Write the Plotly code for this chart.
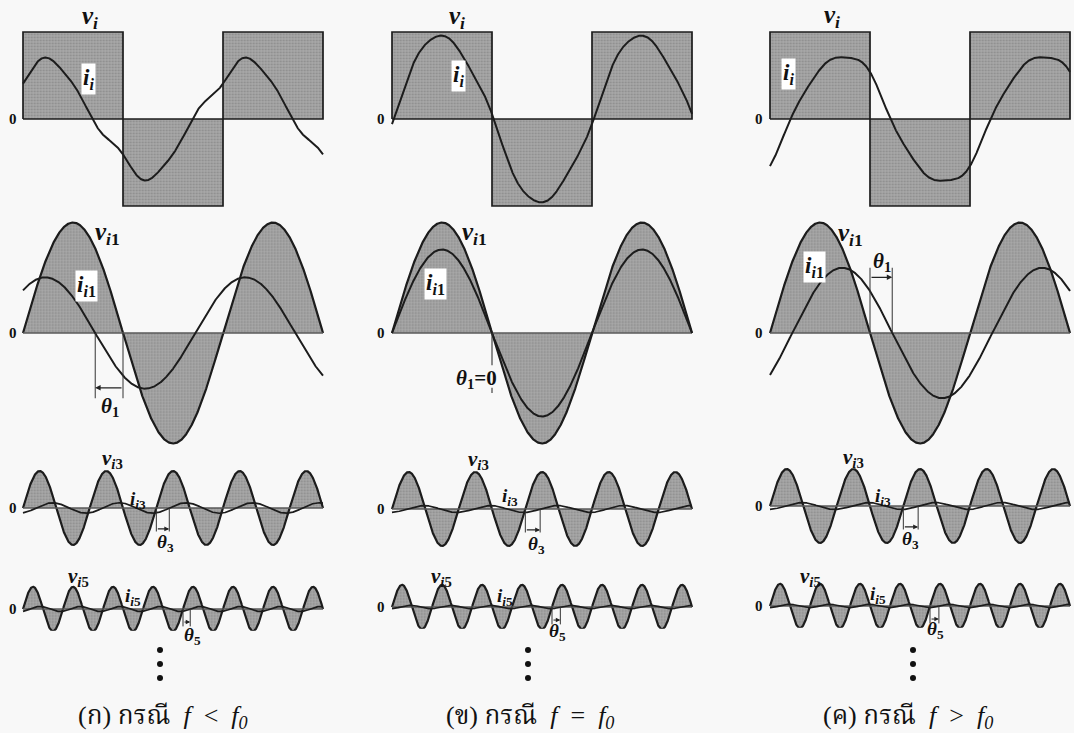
import numpy as np
import plotly.graph_objects as go

W, H = 1074, 733

# ---------------- data ----------------
case_letters = ["ก", "ข", "ค"]
case_signs = ["<", "=", ">"]

harmonic_orders = [1, 3, 5]
# square-wave input voltage (amplitude 1): level in each half period
square_levels = [1, -1, 1]
square_edges = [0, 180, 360, 540]          # degrees of the fundamental
# harmonic voltage amplitudes (fundamental, 3rd, 5th)
v_amp = [1.27, 0.425, 0.255]

# harmonic current amplitudes per case (f<f0, f=f0, f>f0)
i1_amp = [0.64, 0.96, 0.75]
i3_amp = [0.06, 0.04, 0.04]
i5_amp = [0.03, 0.02, 0.02]
# current phase relative to voltage, in harmonic degrees (+ = leading)
phi1 = [50, 0, -40]
phi3 = [-70, -80, -80]
phi5 = [-65, -75, -80]

# zero crossing of each harmonic voltage where the phase bracket is drawn
bracket_at = [180, 240, 288]

# ---------------- layout geometry ----------------
col_x0 = [23, 392, 770]                       # pixel x of angle 0
zero_px = [[119, 333, 508, 609], [119, 333, 509, 607], [119, 333, 506, 606]]
px_per_deg = 300 / 540
px_per_unit = 87
x_range = [-30, 545]
y_ranges = [(-1.25, 1.3), (-1.35, 1.35), (-0.55, 0.6), (-0.25, 0.42)]

LINE = "#1c1c1c"
FILL_BG = "#a9a9a9"
FILL_FG = "#6a6a6a"
SERIF = "Liberation Serif"

fill_pattern = dict(shape=".", bgcolor=FILL_BG, fgcolor=FILL_FG, size=3, solidity=0.35)

fig = go.Figure()
layout = {}
annotations = []
shapes = []


def P(px, py):
    return px / W, 1 - py / H


t = np.linspace(0, 540, 1621)
i_amps = [i1_amp, i3_amp, i5_amp]
phis = [phi1, phi3, phi5]

for c in range(3):
    for r in range(4):
        idx = r * 3 + c + 1
        sfx = "" if idx == 1 else str(idx)
        x0 = col_x0[c]
        z = zero_px[c][r]
        y0, y1 = y_ranges[r]
        xd = [(x0 + x_range[0] * px_per_deg) / W, (x0 + x_range[1] * px_per_deg) / W]
        yd = [1 - (z - y0 * px_per_unit) / H, 1 - (z - y1 * px_per_unit) / H]
        layout["xaxis" + sfx] = dict(domain=xd, range=x_range, visible=False,
                                     fixedrange=True, anchor="y" + sfx)
        layout["yaxis" + sfx] = dict(domain=yd, range=[y0, y1], visible=False,
                                     fixedrange=True, anchor="x" + sfx)
        xa, ya = "x" + sfx, "y" + sfx

        if r == 0:
            # square-wave voltage block outline
            sx, sy = [square_edges[0]], [0]
            for k, lev in enumerate(square_levels):
                sx += [square_edges[k], square_edges[k + 1]]
                sy += [lev, lev]
            sx += [square_edges[-1], square_edges[0]]
            sy += [0, 0]
            fig.add_trace(go.Scatter(x=sx, y=sy, mode="lines", fill="toself",
                                     fillpattern=fill_pattern, fillcolor=FILL_BG,
                                     line=dict(color=LINE, width=1.7),
                                     xaxis=xa, yaxis=ya, hoverinfo="skip"))
            # total current: sum of harmonic currents
            cur = np.zeros_like(t)
            for h, n in enumerate(harmonic_orders):
                cur += i_amps[h][c] * np.sin(np.radians(n * t + phis[h][c]))
            fig.add_trace(go.Scatter(x=t, y=cur, mode="lines",
                                     line=dict(color=LINE, width=2),
                                     xaxis=xa, yaxis=ya, hoverinfo="skip"))
        else:
            h = r - 1
            n = harmonic_orders[h]
            v = v_amp[h] * np.sin(np.radians(n * t))
            fig.add_trace(go.Scatter(x=t, y=v, mode="lines", fill="tozeroy",
                                     fillpattern=fill_pattern, fillcolor=FILL_BG,
                                     line=dict(color=LINE, width=2.2),
                                     xaxis=xa, yaxis=ya, hoverinfo="skip"))
            fig.add_trace(go.Scatter(x=[t[0], t[-1]], y=[0, 0], mode="lines",
                                     line=dict(color="#5a5a5a", width=1.3),
                                     xaxis=xa, yaxis=ya, hoverinfo="skip"))
            cur = i_amps[h][c] * np.sin(np.radians(n * t + phis[h][c]))
            fig.add_trace(go.Scatter(x=t, y=cur, mode="lines",
                                     line=dict(color=LINE, width=2 if h == 0 else 1.7),
                                     xaxis=xa, yaxis=ya, hoverinfo="skip"))

            # phase bracket between voltage and current zero crossings
            xv = bracket_at[h]
            xi = xv - phis[h][c] / n
            if h == 0:
                if phis[h][c] == 0:
                    fig.add_trace(go.Scatter(x=[xv, xv], y=[0, -0.37], mode="lines",
                                             line=dict(color="#333", width=1.1),
                                             xaxis=xa, yaxis=ya, hoverinfo="skip"))
                    fig.add_trace(go.Scatter(x=[xv, xv], y=[-0.63, -0.69], mode="lines",
                                             line=dict(color="#333", width=1.1),
                                             xaxis=xa, yaxis=ya, hoverinfo="skip"))
                    continue
                top, arr = (0.75, 0.64) if phis[h][c] < 0 else (-0.75, -0.63)
                awid = 1.2
            elif h == 1:
                top, arr = -0.27, -0.24
                awid = 1.1
            else:
                top, arr = -0.2, -0.15
                awid = 1.0
            for xx in (xv, xi):
                fig.add_trace(go.Scatter(x=[xx, xx], y=[0, top], mode="lines",
                                         line=dict(color="#333", width=1.0),
                                         xaxis=xa, yaxis=ya, hoverinfo="skip"))
            annotations.append(dict(x=xi, y=arr, ax=xv, ay=arr, xref=xa, yref=ya,
                                    axref=xa, ayref=ya, text="", showarrow=True,
                                    arrowhead=2, arrowsize=0.9, arrowwidth=awid,
                                    arrowcolor="#222"))


def label(px, py, text, size, box=False, xanchor="center", family=SERIF):
    x, y = P(px, py)
    a = dict(x=x, y=y, xref="paper", yref="paper", text=text, showarrow=False,
             xanchor=xanchor, yanchor="middle",
             font=dict(family=family, size=size, color="#111"))
    if box:
        a.update(bgcolor="white", borderpad=1)
    annotations.append(a)


def vlab(k):
    return "<b><i>v</i></b><sub><b><i>i</i>%s</b></sub>" % k


def ilab(k):
    return "<b><i>i</i></b><sub><b><i>i</i>%s</b></sub>" % k


def thlab(k):
    return "<b><i>θ</i></b><sub><b>%s</b></sub>" % k


# row labels: (px, py) per column
v_pos = [[(90, 18), (457, 18), (832, 17)],
         [(107, 234), (474, 234), (850, 235)],
         [(112, 459), (478, 460), (853, 458)],
         [(78, 577), (441, 577), (810, 577)]]
i_pos = [[(88, 79), (458, 76), (788, 74)],
         [(86, 286), (435, 284), (814, 267)],
         [(138, 500), (510, 497), (883, 497)],
         [(133, 597), (505, 597), (878, 595)]]
th_pos = [[(110, 407), None, (882, 262)],
          [(165, 543), (536, 545), (910, 540)],
          [(192, 636), (557, 632), (935, 630)]]
zero_x = [13, 381, 759]
sub_idx = ["", "1", "3", "5"]

for c in range(3):
    for r in range(4):
        vx, vy = v_pos[r][c]
        label(vx, vy, vlab(sub_idx[r]), 25 if r < 2 else 21)
        ix, iy = i_pos[r][c]
        label(ix, iy, ilab(sub_idx[r]), 23 if r < 2 else 19, box=(r < 2))
        label(zero_x[c], zero_px[c][r], "<b>0</b>", 15)
    for h in range(3):
        pos = th_pos[h][c]
        if pos is not None:
            label(pos[0], pos[1], thlab(harmonic_orders[h]), 21 if h == 0 else 19)

# theta_1 = 0 label for the resonant case
label(499, 379, "<b><i>θ</i><sub>1</sub>=0</b>", 21, xanchor="right")

# continuation dots and case captions
dot_x = [160, 528, 913]
for c in range(3):
    for dy in (650, 664, 678):
        x, y = P(dot_x[c], dy)
        shapes.append(dict(type="circle", xref="paper", yref="paper",
                           x0=x - 3 / W, x1=x + 3 / W, y0=y - 3 / H, y1=y + 3 / H,
                           fillcolor="#111", line=dict(width=0)))
    label([163, 530, 908][c], 717,
          "(%s) กรณี  <i>f</i>  %s  <i>f</i><sub><i>0</i></sub>" % (case_letters[c], case_signs[c]),
          26, family="Liberation Serif, Noto Serif Thai, Noto Sans Thai, serif")

fig.update_layout(**layout)
fig.update_layout(width=W, height=H, margin=dict(l=0, r=0, t=0, b=0),
                  paper_bgcolor="#f8f8f8", plot_bgcolor="rgba(0,0,0,0)",
                  showlegend=False, annotations=annotations, shapes=shapes)

fig.write_html("out.html", config={"displayModeBar": False})
